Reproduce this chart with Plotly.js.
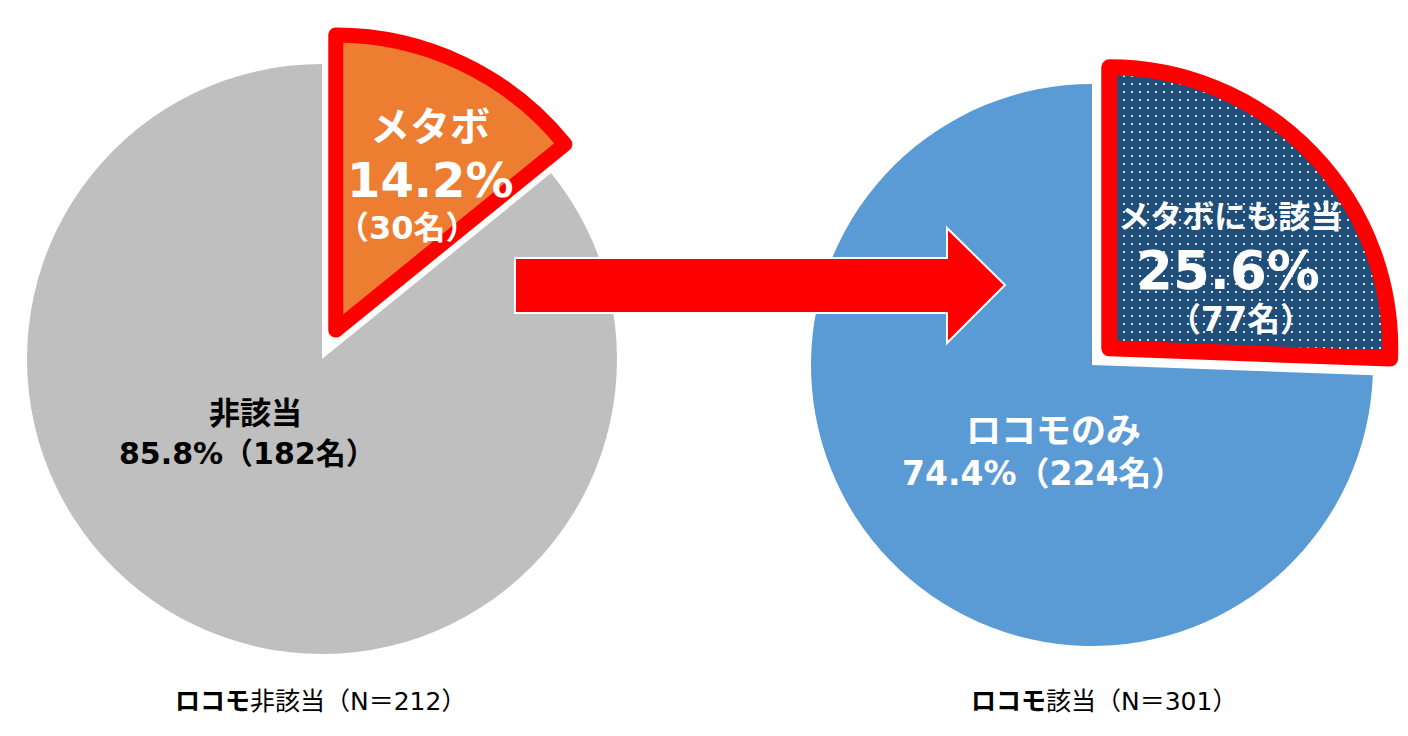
<!DOCTYPE html>
<html>
<head>
<meta charset="utf-8">
<script src="https://cdn.plot.ly/plotly-3.0.1.min.js"></script>
<style>
html,body{margin:0;padding:0;background:#fff;}
#chart{width:1408px;height:736px;}
.pielayer path.surface{stroke-linejoin:round;}
</style>
</head>
<body>
<div id="chart"></div>
<script>
// ---- data ----
const groupNames = ['ロコモ非該当', 'ロコモ該当'];
const groupN = [212, 301];
const leftLabels = ['メタボ', '非該当'];
const leftCounts = [30, 182];
const leftPct = [14.2, 85.8];
const rightLabels = ['メタボにも該当', 'ロコモのみ'];
const rightCounts = [77, 224];
const rightPct = [25.6, 74.4];

// ---- helpers (layout only) ----
const W = 1408, H = 736;
const px = x => x / W;
const py = y => 1 - y / H;
function dom(cx, cy, r) {
  return {x: [px(cx - r), px(cx + r)], y: [py(cy + r), py(cy - r)]};
}
const CLEAR = 'rgba(0,0,0,0)';
const FONT = 'DejaVu Sans, Noto Sans CJK JP, sans-serif';

const L = {cx: 322, cy: 359, r: 295, shift: 32};
const R = {cx: 1092, cy: 365, r: 281, shift: 24};
function shiftCenter(P, frac) {
  const a = Math.PI * frac;
  return {cx: P.cx + P.shift * Math.sin(a), cy: P.cy - P.shift * Math.cos(a)};
}
const leftTotal = leftCounts[0] + leftCounts[1];
const rightTotal = rightCounts[0] + rightCounts[1];
const Lx = shiftCenter(L, leftCounts[0] / leftTotal);
const Rx = shiftCenter(R, rightCounts[0] / rightTotal);

const common = {type: 'pie', sort: false, direction: 'clockwise', rotation: 0,
  textinfo: 'none', hoverinfo: 'none', showlegend: false};

const traces = [
  Object.assign({}, common, {
    labels: leftLabels, values: leftCounts,
    domain: dom(L.cx, L.cy, L.r),
    marker: {colors: [CLEAR, '#BFBFBF'], line: {width: 0}}
  }),
  Object.assign({}, common, {
    labels: leftLabels, values: leftCounts,
    domain: dom(Lx.cx, Lx.cy, L.r),
    marker: {colors: ['#ED7D31', CLEAR], line: {width: [15, 0], color: ['#FF0000', CLEAR]}}
  }),
  Object.assign({}, common, {
    labels: rightLabels, values: rightCounts,
    domain: dom(R.cx, R.cy, R.r),
    marker: {colors: [CLEAR, '#5B9BD5'], line: {width: 0}}
  }),
  Object.assign({}, common, {
    labels: rightLabels, values: rightCounts,
    domain: dom(Rx.cx, Rx.cy, R.r),
    marker: {colors: ['#1F4E79', CLEAR],
      pattern: {shape: ['.', ''], fgcolor: '#FFFFFF', bgcolor: ['#1F4E79', CLEAR], size: 8, solidity: 0.06, fillmode: 'replace'},
      line: {width: [16, 0], color: ['#FF0000', CLEAR]}}
  })
];

function ann(text, x, y, size, color, bold) {
  return {text: bold ? '<b>' + text + '</b>' : text, x: px(x), y: py(y), xref: 'paper', yref: 'paper',
    xanchor: 'center', yanchor: 'middle', showarrow: false,
    font: {family: FONT, size: size, color: color}};
}
const pct = v => v.toFixed(1) + '%';
const cnt = n => '（' + n + '名）';

const annotations = [
  ann(leftLabels[0], 430, 127, 40, '#FFFFFF', true),
  ann(pct(leftPct[0]), 430, 180, 48, '#FFFFFF', true),
  ann(cnt(leftCounts[0]), 407, 228, 32, '#FFFFFF', true),
  ann(leftLabels[1], 255, 413, 31, '#000000', true),
  ann(pct(leftPct[1]) + cnt(leftCounts[1]), 247, 453, 30, '#000000', true),
  ann(rightLabels[0], 1230, 217, 32, '#FFFFFF', true),
  ann(pct(rightPct[0]), 1228, 270, 53, '#FFFFFF', true),
  ann(cnt(rightCounts[0]), 1240, 319, 33, '#FFFFFF', true),
  ann(rightLabels[1], 1053, 431, 35, '#FFFFFF', true),
  ann(pct(rightPct[1]) + cnt(rightCounts[1]), 1043, 473, 33, '#FFFFFF', true),
  ann('<b>' + groupNames[0].slice(0, 3) + '</b>' + groupNames[0].slice(3) + '（N＝' + groupN[0] + '）', 320, 701, 25, '#000000', false),
  ann('<b>' + groupNames[1].slice(0, 3) + '</b>' + groupNames[1].slice(3) + '（N＝' + groupN[1] + '）', 1104, 701, 25, '#000000', false)
];

// arrow (decoration)
const arrowPts = [[515,258],[947,258],[947,228],[1005,285],[947,343],[947,313],[515,313]];
const arrowPath = 'M' + arrowPts.map(p => px(p[0]) + ',' + py(p[1])).join(' L') + ' Z';

const layout = {
  width: W, height: H,
  margin: {l: 0, r: 0, t: 0, b: 0},
  paper_bgcolor: '#FFFFFF', plot_bgcolor: '#FFFFFF',
  showlegend: false,
  shapes: [{type: 'path', xref: 'paper', yref: 'paper', path: arrowPath,
    fillcolor: '#FF0000', line: {color: '#FFFFFF', width: 2}, layer: 'above'}],
  annotations: annotations
};

Plotly.newPlot('chart', traces, layout, {displayModeBar: false, staticPlot: true});
</script>
</body>
</html>
